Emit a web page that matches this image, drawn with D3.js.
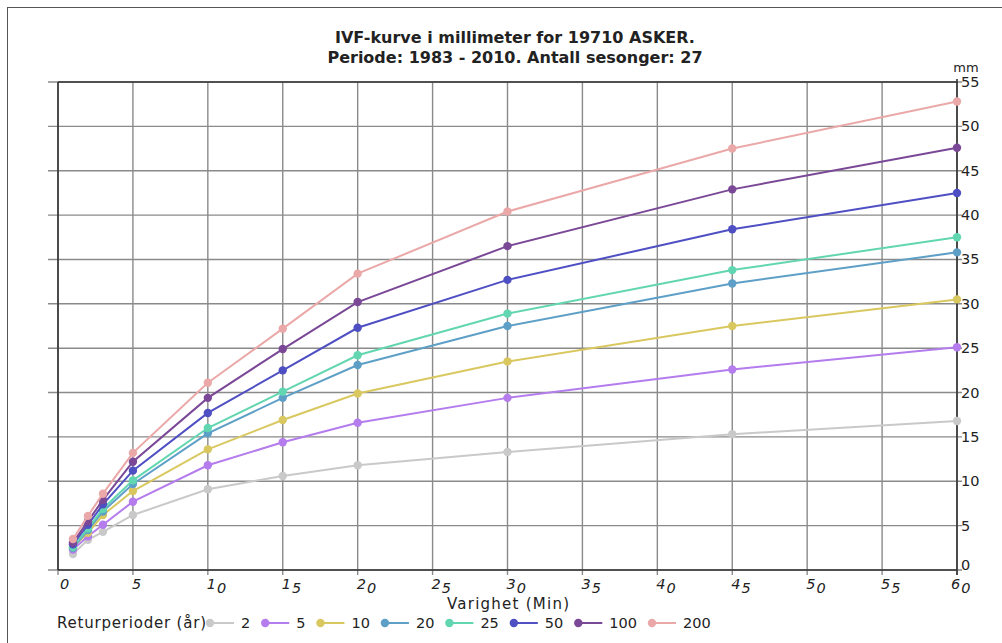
<!DOCTYPE html>
<html>
<head>
<meta charset="utf-8">
<script src="https://cdn.jsdelivr.net/npm/d3@7"></script>
<style>
  html, body { margin: 0; padding: 0; background: #fff; }
  svg { display: block; }
  text { font-family: "DejaVu Sans", Verdana, sans-serif; fill: #222; }
</style>
</head>
<body>
<svg id="chart" width="1002" height="643"></svg>
<script>
const titleLines = ["IVF-kurve i millimeter for 19710 ASKER.", "Periode: 1983 - 2010. Antall sesonger: 27"];
const xLabel = "Varighet  (Min)";
const yUnit = "mm";
const legendTitle = "Returperioder (år)";

const durations = [1, 2, 3, 5, 10, 15, 20, 30, 45, 60];
const returnPeriods = ["2", "5", "10", "20", "25", "50", "100", "200"];
const s2   = [1.8, 3.4, 4.3, 6.2, 9.1, 10.6, 11.8, 13.3, 15.3, 16.8];
const s5   = [2.3, 3.8, 5.1, 7.7, 11.8, 14.4, 16.6, 19.4, 22.6, 25.1];
const s10  = [2.6, 4.2, 6.2, 8.9, 13.6, 16.9, 19.9, 23.5, 27.5, 30.5];
const s20  = [2.5, 4.5, 6.6, 9.7, 15.4, 19.4, 23.1, 27.5, 32.3, 35.8];
const s25  = [2.6, 4.7, 6.9, 10.1, 16.0, 20.1, 24.2, 28.9, 33.8, 37.5];
const s50  = [2.9, 5.1, 7.4, 11.2, 17.7, 22.5, 27.3, 32.7, 38.4, 42.5];
const s100 = [3.1, 5.5, 7.9, 12.2, 19.4, 24.9, 30.2, 36.5, 42.9, 47.6];
const s200 = [3.5, 6.1, 8.6, 13.2, 21.1, 27.2, 33.4, 40.4, 47.5, 52.8];
const seriesValues = [s2, s5, s10, s20, s25, s50, s100, s200];
const colors = ["#c9c9c9", "#b47cec", "#d9c860", "#5d9fc6", "#62d6b0", "#4f4fc4", "#7a4896", "#eba8a8"];
const xTicks = [0, 5, 10, 15, 20, 25, 30, 35, 40, 45, 50, 55, 60];
const yTicks = [0, 5, 10, 15, 20, 25, 30, 35, 40, 45, 50, 55];

const svg = d3.select("#chart");
const L = 58, R = 957, T = 82, B = 570;
const x = d3.scaleLinear().domain([0, 60]).range([L, R]);
const y = d3.scaleLinear().domain([0, 55]).range([B, T]);

// outer frame
svg.append("rect").attr("x", 7.5).attr("y", 7.5).attr("width", 1100).attr("height", 1000)
  .attr("fill", "none").attr("stroke", "#555").attr("stroke-width", 1);

// title
svg.append("text").attr("x", 515).attr("y", 43).attr("text-anchor", "middle")
  .attr("font-size", 16).attr("font-weight", 600).attr("fill", "#111").text(titleLines[0]);
svg.append("text").attr("x", 515).attr("y", 63).attr("text-anchor", "middle")
  .attr("font-size", 16).attr("font-weight", 600).attr("fill", "#111").text(titleLines[1]);

// grid
const grid = svg.append("g");
grid.selectAll(".vg").data(xTicks).join("line")
  .attr("x1", d => x(d)).attr("x2", d => x(d)).attr("y1", T).attr("y2", B + 5)
  .attr("stroke", "#8a8a8a").attr("stroke-width", 1.4);
grid.selectAll(".hg").data(yTicks).join("line")
  .attr("x1", L - 10).attr("x2", R + 5).attr("y1", d => y(d)).attr("y2", d => y(d))
  .attr("stroke", "#8a8a8a").attr("stroke-width", 1.4);

// axes frame lines
svg.append("line").attr("x1", L).attr("x2", L).attr("y1", T).attr("y2", B).attr("stroke", "#333").attr("stroke-width", 1.6);
svg.append("line").attr("x1", R).attr("x2", R).attr("y1", T - 3).attr("y2", B + 5).attr("stroke", "#333").attr("stroke-width", 1.6);
svg.append("line").attr("x1", L).attr("x2", R).attr("y1", T).attr("y2", T).attr("stroke", "#333").attr("stroke-width", 1.6);
svg.append("line").attr("x1", L).attr("x2", R).attr("y1", B).attr("y2", B).attr("stroke", "#333").attr("stroke-width", 1.6);

// x tick labels (italic, jittered second digit like the original rendering)
const xl = svg.append("g").selectAll("text").data(xTicks).join("text")
  .attr("x", d => x(d) + (d === 0 ? 2 : (d === 60 ? -6 : -1))).attr("y", 589)
  .attr("font-size", 14.5).attr("font-style", "italic").attr("fill", "#333");
xl.each(function(d) {
  const s = String(d);
  const t = d3.select(this);
  t.append("tspan").text(s[0]);
  if (s.length > 1) t.append("tspan").attr("dy", 3.5).attr("dx", 1).text(s.slice(1));
});

// y tick labels on right
svg.append("g").selectAll("text").data(yTicks).join("text")
  .attr("x", R + 4).attr("y", d => y(d) + (d === 0 ? 0 : 5))
  .attr("font-size", 14.5).attr("fill", "#333")
  .text(d => d);
svg.append("text").attr("x", R + 9).attr("y", 72).attr("text-anchor", "middle")
  .attr("font-size", 13).text(yUnit);

// x axis title
svg.append("text").attr("x", 508).attr("y", 609).attr("text-anchor", "middle")
  .attr("font-size", 15).attr("textLength", 122).attr("lengthAdjust", "spacing").text(xLabel);

// series
const line = d3.line().x((d, i) => x(durations[i])).y(d => y(d));
const plot = svg.append("g");
seriesValues.forEach((vals, si) => {
  plot.append("path").datum(vals).attr("d", line)
    .attr("fill", "none").attr("stroke", colors[si]).attr("stroke-width", 2);
  plot.selectAll(null).data(vals).join("circle")
    .attr("cx", (d, i) => x(durations[i])).attr("cy", d => y(d)).attr("r", 4.2)
    .attr("fill", colors[si]);
});

// legend
const lg = svg.append("g");
lg.append("text").attr("x", 57).attr("y", 628).attr("font-size", 15)
  .attr("textLength", 149).attr("lengthAdjust", "spacing").text(legendTitle);
let cx = 57 + 149 + 4;
returnPeriods.forEach((rp, i) => {
  lg.append("line").attr("x1", cx).attr("x2", cx + 24).attr("y1", 623).attr("y2", 623)
    .attr("stroke", colors[i]).attr("stroke-width", 2);
  lg.append("circle").attr("cx", cx).attr("cy", 623).attr("r", 4.2).attr("fill", colors[i]);
  const t = lg.append("text").attr("x", cx + 31).attr("y", 628).attr("font-size", 14.5).text(rp);
  cx += 31 + t.node().getComputedTextLength() + 15;
});
</script>
</body>
</html>
